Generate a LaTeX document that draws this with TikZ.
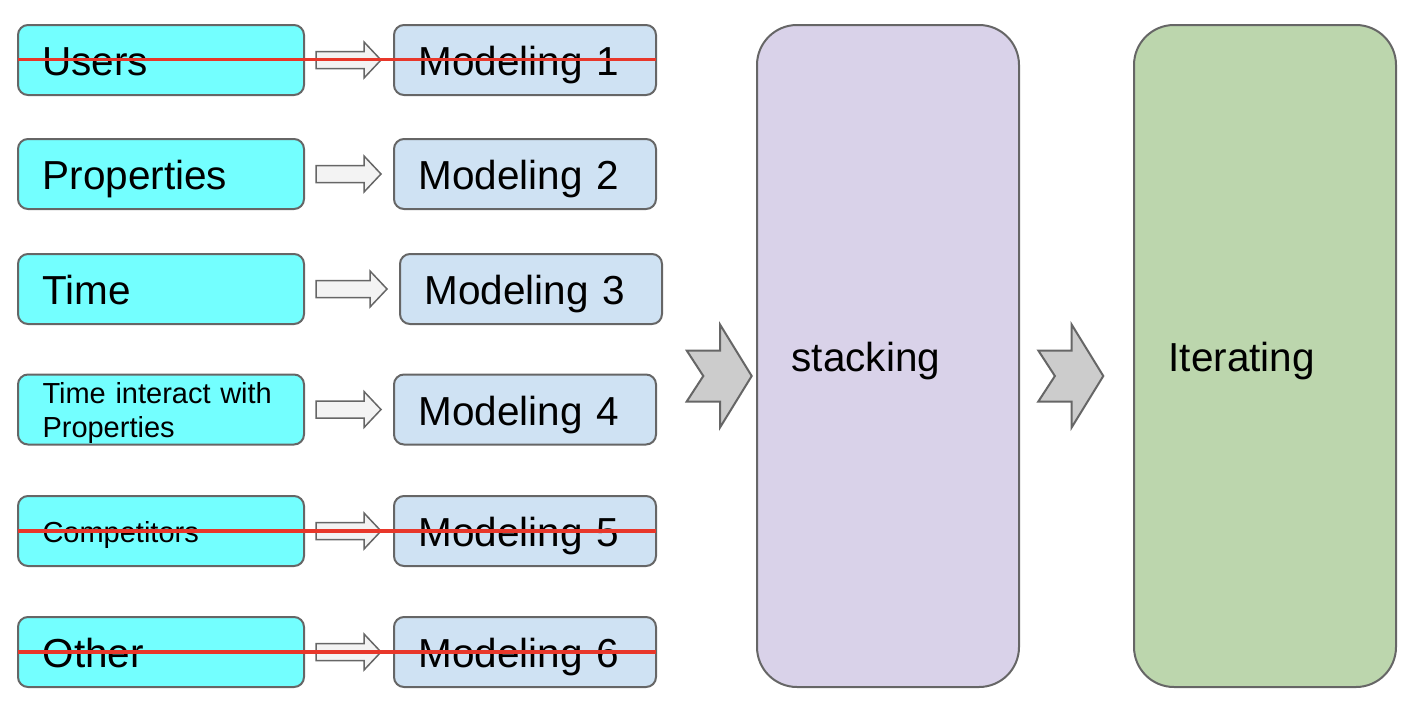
\documentclass[tikz,border=0pt]{standalone}
\usepackage{fontspec}
\setmainfont{Liberation Sans}
\usetikzlibrary{calc}
\definecolor{cyanfill}{HTML}{73FFFF}
\definecolor{modfill}{HTML}{CFE2F3}
\definecolor{stkfill}{HTML}{D9D2E9}
\definecolor{itfill}{HTML}{BCD6AD}
\definecolor{edgegray}{HTML}{666666}
\definecolor{strikered}{HTML}{E8372A}
\definecolor{arrfill}{HTML}{F3F3F3}
\definecolor{chevfill}{HTML}{CCCCCC}
\newcommand\bigfont{\fontsize{40.5}{48}\selectfont}
\newcommand\smallfont{\fontsize{29}{34}\selectfont}
\newcommand\blockarr[2]{%
  \path[blockarrow] let \p1=($(#1.east)+(12,0)$), \p2=($(#2.west)+(-13,0)$) in
  (\x1,\y1+8.5pt) -- (\x2-17pt,\y1+8.5pt) -- (\x2-17pt,\y1+18pt) -- (\x2,\y1)
  -- (\x2-17pt,\y1-18pt) -- (\x2-17pt,\y1-8.5pt) -- (\x1,\y1-8.5pt) -- cycle;}
\newcommand\chev[1]{%
  \path[chevron, shift={(#1)}] (0,0) -- (-31.7,51.5) -- (-31.7,25.5) -- (-65,25.5)
  -- (-48.4,0) -- (-65,-25.5) -- (-31.7,-25.5) -- (-31.7,-51.5) -- cycle;}
\begin{document}
\begin{tikzpicture}[x=1pt,y=-1pt,
  box/.style={draw=edgegray, line width=2pt, rounded corners=10pt, inner ysep=0pt, align=left, outer sep=0pt},
  srcbox/.style={box, fill=cyanfill, minimum width=286pt, minimum height=70pt, inner xsep=24.5pt, text width=237pt},
  modbox/.style={box, fill=modfill, minimum width=262pt, minimum height=70pt, inner xsep=24.5pt, text width=213pt},
  bigbox/.style={box, rounded corners=40pt, minimum width=262pt, minimum height=662pt, inner xsep=34.5pt, text width=193pt},
  large/.style={font=\bigfont, text height=31pt, text depth=0pt},
  small/.style={font=\smallfont, text height=22pt, text depth=0pt},
  blockarrow/.style={draw=edgegray, line width=1.5pt, fill=arrfill, line join=miter},
  chevron/.style={draw=edgegray, line width=2pt, fill=chevfill, line join=miter},
  strike/.style={draw=strikered, line width=3.5pt}
]
\useasboundingbox (0,0) rectangle (1412,712);

% source boxes
\node[srcbox, large] (u) at (161,60) {Users};
\node[srcbox, large] (p) at (161,174) {Properties};
\node[srcbox, large] (t) at (161,289) {Time};
\node[srcbox, font=\smallfont, text height=22pt, text depth=34pt] (tp) at (161,409.5) {Time interact with\\Properties};
\node[srcbox, small] (c) at (161,531) {Competitors};
\node[srcbox, large] (o) at (161,652) {Other};

% modeling boxes
\node[modbox, large] (m1) at (525,60) {Modeling 1};
\node[modbox, large] (m2) at (525,174) {Modeling 2};
\node[modbox, large] (m3) at (531,289) {Modeling 3};
\node[modbox, large] (m4) at (525,409.5) {Modeling 4};
\node[modbox, large] (m5) at (525,531) {Modeling 5};
\node[modbox, large] (m6) at (525,652) {Modeling 6};

% big boxes
\node[bigbox, large, fill=stkfill] (stk) at (888,356) {stacking};
\node[bigbox, large, fill=itfill] (it) at (1265,356) {Iterating};

% block arrows
\blockarr{u}{m1}
\blockarr{p}{m2}
\blockarr{t}{m3}
\blockarr{tp}{m4}
\blockarr{c}{m5}
\blockarr{o}{m6}

% chevrons
\coordinate (c1) at ($(stk.west)+(-5.3,20)$);
\coordinate (c2) at ($(it.west)+(-30.7,20)$);
\chev{c1}
\chev{c2}

% strike-through lines
\draw[strike] ($(u.west)+(0,-0.5)$) -- ($(m1.east)+(0,-0.5)$);
\draw[strike] (c.west) -- (m5.east);
\draw[strike] (o.west) -- (m6.east);
\end{tikzpicture}
\end{document}
